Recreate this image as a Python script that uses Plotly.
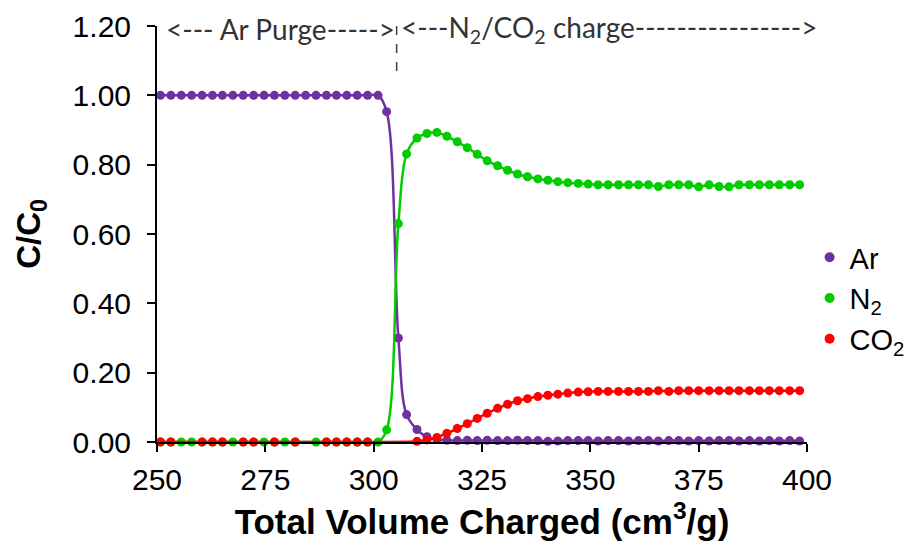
import plotly.graph_objects as go

# ---------------- data ----------------
volume = [
    250.8, 253.2, 255.6, 258.0, 260.4, 262.8, 265.1, 267.5, 269.9, 272.3, 274.7,
    277.1, 279.5, 281.9, 284.3, 286.7, 289.1, 291.4, 293.8, 296.2, 298.6, 301.0,
    303.0, 305.7, 307.6, 310.0, 312.3, 314.6, 316.9, 319.3, 321.6, 323.9, 326.2,
    328.6, 330.9, 333.2, 335.5, 337.9, 340.2, 342.5, 344.8, 347.2, 349.5, 351.8,
    354.1, 356.5, 358.8, 361.1, 363.4, 365.7, 368.1, 370.4, 372.7, 375.0, 377.4,
    379.7, 382.0, 384.3, 386.7, 389.0, 391.3, 393.6, 396.0, 398.3,
]

ar = [
    1.00, 1.00, 1.00, 1.00, 1.00, 1.00, 1.00, 1.00, 1.00, 1.00, 1.00,
    1.00, 1.00, 1.00, 1.00, 1.00, 1.00, 1.00, 1.00, 1.00, 1.00, 1.00,
    0.953, 0.300, 0.079, 0.036, 0.015, 0.007, 0.005, 0.004, 0.005, 0.004, 0.005,
    0.004, 0.004, 0.005, 0.004, 0.004, 0.002, 0.003, 0.004, 0.004, 0.004, 0.003,
    0.004, 0.004, 0.003, 0.004, 0.004, 0.003, 0.004, 0.004, 0.003, 0.004, 0.003,
    0.004, 0.004, 0.003, 0.004, 0.003, 0.004, 0.003, 0.004, 0.003,
]

n2 = [
    0.0, 0.0, 0.0, 0.0, 0.0, 0.0, 0.0, 0.0, 0.0, 0.0, 0.0,
    0.0, 0.0, 0.0, None, 0.0, 0.0, 0.0, 0.0, 0.0, 0.0, 0.0,
    0.035, 0.630, 0.831, 0.877, 0.890, 0.893, 0.882, 0.866, 0.849, 0.830, 0.811,
    0.797, 0.784, 0.773, 0.765, 0.759, 0.755, 0.751, 0.748, 0.746, 0.744, 0.742,
    0.742, 0.742, 0.742, 0.742, 0.742, 0.737, 0.742, 0.742, 0.742, 0.736, 0.742,
    0.737, 0.736, 0.742, 0.742, 0.742, 0.742, 0.742, 0.742, 0.742,
]

co2 = [
    0.0, 0.0, None, None, 0.0, 0.0, 0.0, None, 0.0, 0.0, None,
    0.0, None, 0.0, None, None, 0.0, 0.0, 0.0, 0.0, 0.0, None,
    None, None, None, 0.002, 0.006, 0.013, 0.025, 0.039, 0.053, 0.068, 0.083,
    0.097, 0.109, 0.119, 0.125, 0.131, 0.135, 0.138, 0.141, 0.144, 0.145, 0.146,
    0.146, 0.146, 0.146, 0.146, 0.146, 0.148, 0.146, 0.148, 0.148, 0.148, 0.148,
    0.148, 0.148, 0.148, 0.148, 0.148, 0.148, 0.148, 0.148, 0.148,
]

series_names = ["Ar", "N<sub>2</sub>", "CO<sub>2</sub>"]
series_colors = ["#7030A0", "#00CC00", "#FF0000"]

x_ticks = [250, 275, 300, 325, 350, 375, 400]
y_ticks = [0.0, 0.2, 0.4, 0.6, 0.8, 1.0, 1.2]

phase_boundary = 305.3
purge_label = "&lt;--- Ar Purge-----&gt;"
charge_label = "&lt;---N<sub>2</sub>/CO<sub>2</sub> charge----------------&gt;"

# ---------------- figure ----------------
fig = go.Figure()

for name, vals, col in zip(series_names, [ar, n2, co2], series_colors):
    fig.add_trace(go.Scatter(
        x=volume, y=vals, mode="lines+markers", name=name,
        line=dict(color=col, width=2.5, shape="spline"),
        marker=dict(color=col, size=9),
        connectgaps=True, cliponaxis=False, showlegend=False,
    ))

# legend-only entries (dot only)
for name, col in zip(series_names, series_colors):
    fig.add_trace(go.Scatter(
        x=[None], y=[None], mode="markers", name=name,
        marker=dict(color=col, size=10), showlegend=True,
    ))

fig.add_shape(type="line", x0=phase_boundary, x1=phase_boundary, y0=1.07, y1=1.2,
              xref="x", yref="y", line=dict(color="#404040", width=1.5, dash="dash"))

ann_font = dict(family="Lato, Liberation Sans Narrow, sans-serif", size=28, color="#333333")
fig.add_annotation(x=251.6, y=1.19, xref="x", yref="y", text=purge_label,
                   showarrow=False, xanchor="left", yanchor="middle", font=ann_font)
fig.add_annotation(x=305.9, y=1.19, xref="x", yref="y", text=charge_label,
                   showarrow=False, xanchor="left", yanchor="middle", font=ann_font)

base_font = "Liberation Sans, Arial, sans-serif"
axis_common = dict(
    showline=True, linecolor="black", linewidth=2, showgrid=False, zeroline=False,
    ticks="outside", ticklen=8, tickwidth=2, tickcolor="black",
    tickfont=dict(family=base_font, size=30, color="black"),
)

fig.update_layout(
    width=917, height=552,
    margin=dict(l=157, r=110, t=26, b=110, autoexpand=False),
    paper_bgcolor="white", plot_bgcolor="white",
    xaxis=dict(range=[250, 400], tickvals=x_ticks, ticklabelstandoff=2,
               title=dict(text="<b>Total Volume Charged (cm<sup>3</sup>/g)</b>",
                          font=dict(family=base_font, size=35, color="black"),
                          standoff=14),
               **axis_common),
    yaxis=dict(range=[0, 1.2], tickvals=y_ticks, tickformat=".2f", ticklabelstandoff=10,
               title=dict(text="<b>C/C<sub>0</sub></b>",
                          font=dict(family=base_font, size=33, color="black"),
                          standoff=22),
               **axis_common),
    legend=dict(x=1.004, y=0.505, xanchor="left", yanchor="top",
                font=dict(family=base_font, size=29, color="black"),
                bgcolor="rgba(0,0,0,0)", itemwidth=30),
    showlegend=True,
)

fig.write_html("out.html")
